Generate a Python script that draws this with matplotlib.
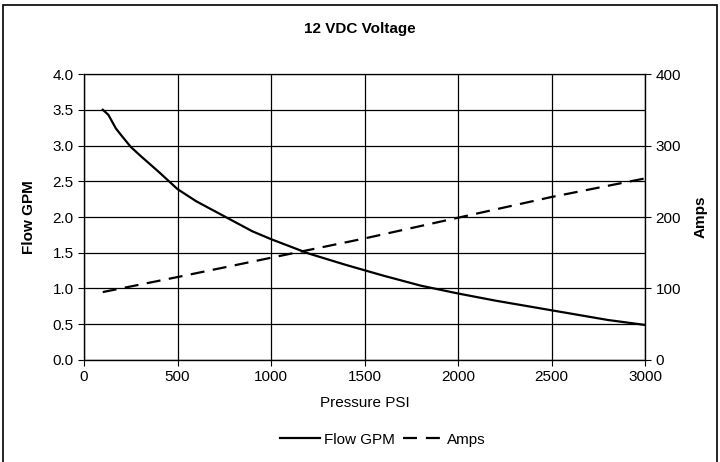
import matplotlib
matplotlib.use("Agg")
import matplotlib.pyplot as plt
from matplotlib.lines import Line2D
from matplotlib.patches import Rectangle

plt.rcParams['font.family'] = ['Liberation Sans', 'DejaVu Sans']

# pressure (PSI) vs flow (GPM)
psi_flow = [100, 130, 170, 200, 250, 300, 400, 500, 600, 700, 800, 900, 1000,
            1200, 1400, 1600, 1800, 2000, 2200, 2400, 2600, 2800, 3000]
flow_gpm = [3.50, 3.43, 3.24, 3.14, 2.98, 2.86, 2.63, 2.39, 2.22, 2.08, 1.94, 1.80, 1.69,
            1.49, 1.33, 1.18, 1.04, 0.93, 0.83, 0.74, 0.65, 0.56, 0.49]

# pressure (PSI) vs current (A)
psi_amps = [100, 500, 1000, 1500, 2000, 2500, 3000]
amps = [95, 116, 143, 170, 199, 228, 254]

fig = plt.figure(figsize=(7.2, 4.62), dpi=100)
ax1 = fig.add_axes([0.1167, 0.2208, 0.7793, 0.619])

ax1.plot(psi_flow, flow_gpm, color='black', linewidth=1.6)
ax1.set_xlim(0, 3000)
ax1.set_ylim(0, 4.0)
ax1.set_xticks(range(0, 3001, 500))
ax1.set_yticks([i * 0.5 for i in range(9)])
ax1.set_yticklabels([f"{i * 0.5:.1f}" for i in range(9)])
ax1.grid(True, color='black', linewidth=0.9)
ax1.set_axisbelow(True)
ax1.tick_params(labelsize=11, direction='out', length=4, width=0.8)
ax1.set_xlabel("Pressure PSI", fontsize=11, labelpad=8)
ax1.set_ylabel("Flow GPM", fontsize=11, fontweight='bold', labelpad=12)
for s in ax1.spines.values():
    s.set_color('#444444')
    s.set_linewidth(1.0)
ax1.spines['top'].set_color('#888888')

ax2 = ax1.twinx()
ax2.plot(psi_amps, amps, color='black', linewidth=1.6, dashes=(6.3, 3.8))
ax2.set_ylim(0, 400)
ax2.set_yticks(range(0, 401, 100))
ax2.tick_params(labelsize=11, direction='out', length=4, width=0.8)
ax2.set_ylabel("Amps", fontsize=11, fontweight='bold', labelpad=9)

fig.suptitle("12 VDC Voltage", fontsize=11, fontweight='bold', y=0.952)

handles = [Line2D([], [], color='black', linewidth=1.6),
           Line2D([], [], color='black', linewidth=1.6, dashes=(6.3, 4))]
fig.legend(handles, ["Flow GPM", "Amps"], loc='center', bbox_to_anchor=(0.532, 0.048),
           ncol=2, frameon=False, fontsize=11, handlelength=2.6,
           columnspacing=0.5, handletextpad=0.3)

fig.patches.append(Rectangle((0.004, -0.02), 0.992, 1.009, transform=fig.transFigure,
                             fill=False, edgecolor='black', linewidth=1.2))

fig.savefig("out.png", dpi=100)
